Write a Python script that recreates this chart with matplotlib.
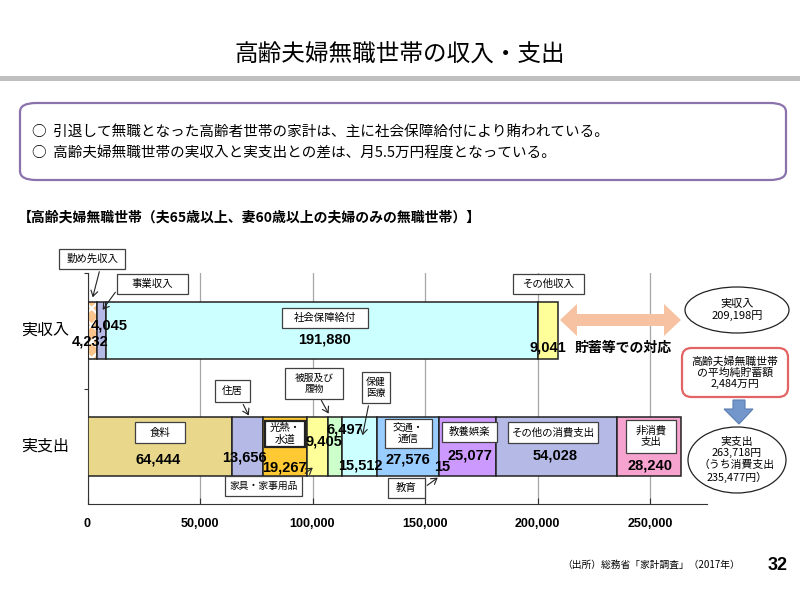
import matplotlib
matplotlib.use('Agg')
import matplotlib.pyplot as plt
from matplotlib.patches import FancyBboxPatch, Ellipse, Rectangle, Polygon, FancyArrowPatch
import numpy as np

plt.rcParams['font.family'] = ['Noto Sans CJK JP', 'DejaVu Sans']
plt.rcParams['hatch.linewidth'] = 1.6

# ---------------- data ----------------
income_labels = ['勤め先収入', '事業収入', '社会保障給付', 'その他収入']
income_values = [4232, 4045, 191880, 9041]
income_colors = ['#f9c58c', '#b4b9e6', '#ccffff', '#ffff99']

expense_labels = ['食料', '住居', '光熱・水道', '家具・家事用品', '被服及び履物', '保健医療',
                  '交通・通信', '教育', '教養娯楽', 'その他の消費支出', '非消費支出']
expense_values = [64444, 13656, 19267, 9405, 6497, 15512, 27576, 15, 25077, 54028, 28240]
expense_colors = ['#e9d78b', '#b4b9e6', '#ffc933', '#ffff99', '#ccffcc', '#ccffff',
                  '#99ccff', '#99ccff', '#cc99ff', '#b4b9e6', '#f7a3cf']

row_labels = ['実収入', '実支出']
xticks = [0, 50000, 100000, 150000, 200000, 250000]
xtick_labels = ['0', '50,000', '100,000', '150,000', '200,000', '250,000']
total_income = '209,198円'
total_expense = '263,718円'
consumption = '235,477円'
savings = '2,484万円'

W, H = 800, 600
fig = plt.figure(figsize=(8, 6), dpi=100)

def fx(x):
    return x / W

def fy(y):
    return 1 - y / H

NUM = 'Liberation Sans'

# ---------------- header ----------------
fig.text(fx(400), fy(54), '高齢夫婦無職世帯の収入・支出', ha='center', va='center', fontsize=17)
fig.add_artist(Rectangle((0, fy(81)), 1, 5 / H, transform=fig.transFigure,
                         facecolor='#bfbfbf', edgecolor='none'))

fig.add_artist(FancyBboxPatch((fx(20), fy(180)), fx(786) - fx(20), (180 - 103) / H,
                              boxstyle='round,pad=0,rounding_size=0.02',
                              transform=fig.transFigure, facecolor='white',
                              edgecolor='#8a72ad', linewidth=1.6, mutation_aspect=0.75))
fig.text(fx(32), fy(132), '○  引退して無職となった高齢者世帯の家計は、主に社会保障給付により賄われている。',
         ha='left', va='center', fontsize=10.5)
fig.text(fx(32), fy(154), '○  高齢夫婦無職世帯の実収入と実支出との差は、月5.5万円程度となっている。',
         ha='left', va='center', fontsize=10.5)
fig.text(fx(18), fy(218), '【高齢夫婦無職世帯（夫65歳以上、妻60歳以上の夫婦のみの無職世帯）】',
         ha='left', va='center', fontsize=10, fontweight='bold')

# ---------------- axes ----------------
x0px, x1px, ytop, ybot = 87.5, 707, 273, 504
scale = 0.00225  # px per yen
ax = fig.add_axes([fx(x0px), fy(ybot), fx(x1px) - fx(x0px), (ybot - ytop) / H])
ax.set_xlim(0, (x1px - x0px) / scale)
ax.set_ylim(0, 1)
for s in ['top', 'right']:
    ax.spines[s].set_visible(False)
ax.spines['left'].set_color('#333333')
ax.spines['bottom'].set_color('#333333')
ax.set_xticks(xticks)
ax.set_xticklabels(xtick_labels, fontfamily=NUM, fontweight='bold', fontsize=9)
ax.tick_params(axis='x', direction='in', length=4, color='#333333', pad=10)
ax.set_yticks([0.5, 1.0])
ax.set_yticklabels([])
ax.tick_params(axis='y', direction='out', length=3, color='#333333')
ax.grid(axis='x', color='#a6a6a6', linewidth=0.9)
ax.set_axisbelow(True)

def ay(ypx):
    return (ybot - ypx) / (ybot - ytop)

y_inc, y_exp = ay(330.5), ay(446.5)
h_inc, h_exp = 57 / (ybot - ytop), 59 / (ybot - ytop)

inc_left = np.concatenate([[0], np.cumsum(income_values)[:-1]])
exp_left = np.concatenate([[0], np.cumsum(expense_values)[:-1]])

for i, (v, l, c) in enumerate(zip(income_values, inc_left, income_colors)):
    if i == 0:
        ax.barh(y_inc, v, left=l, height=h_inc, color=c, edgecolor='white', hatch='xx', linewidth=0, zorder=2)
        ax.barh(y_inc, v, left=l, height=h_inc, fill=False, edgecolor='#222222', linewidth=1.1, zorder=3)
    else:
        ax.barh(y_inc, v, left=l, height=h_inc, color=c, edgecolor='#222222', linewidth=1.1, zorder=3)

for v, l, c in zip(expense_values, exp_left, expense_colors):
    ax.barh(y_exp, v, left=l, height=h_exp, color=c, edgecolor='#222222', linewidth=1.1, zorder=3)

tr = ax.get_xaxis_transform()
ax.text(-0.069, y_inc, row_labels[0], transform=ax.transAxes, ha='center', va='center', fontsize=11.5)
ax.text(-0.069, y_exp, row_labels[1], transform=ax.transAxes, ha='center', va='center', fontsize=11.5)

def fmt(v):
    return f'{v:,}'

# value labels: (dx px, y px)
inc_pos = [(-2, 342), (8, 326), (3, 340), (0, 347)]
exp_pos = [(-2, 459), (-3, 457), (0, 467), (7, 442), (10, 430), (1, 466),
           (0, 460), (3, 467), (2, 456), (-1, 456), (1, 466)]

for v, l, (dx, ypx) in zip(income_values, inc_left, inc_pos):
    ax.text(l + v / 2 + dx / scale, ay(ypx), fmt(v), transform=tr, ha='center', va='center',
            fontfamily=NUM, fontweight='bold', fontsize=10.5, zorder=6)
for v, l, (dx, ypx) in zip(expense_values, exp_left, exp_pos):
    ax.text(l + v / 2 + dx / scale, ay(ypx), fmt(v), transform=tr, ha='center', va='center',
            fontfamily=NUM, fontweight='bold', fontsize=10.5, zorder=6)

# ---------------- label boxes ----------------
def box(x0, y0, x1, y1, text, lw=0.9, ec='#404040', fs=7.5):
    fig.add_artist(Rectangle((fx(x0), fy(y1)), (x1 - x0) / W, (y1 - y0) / H,
                             transform=fig.transFigure, facecolor='white',
                             edgecolor=ec, linewidth=lw, zorder=10))
    fig.text(fx((x0 + x1) / 2), fy((y0 + y1) / 2), text, ha='center', va='center',
             fontsize=fs, linespacing=1.15, zorder=11)

def arrow(xa, ya, xb, yb):
    fig.add_artist(FancyArrowPatch((fx(xa), fy(ya)), (fx(xb), fy(yb)), transform=fig.transFigure,
                                   arrowstyle='->,head_length=4,head_width=2.5', color='#222222',
                                   linewidth=0.8, zorder=12))

box(59, 249, 125, 269, '勤め先収入')
box(117, 274, 188, 294, '事業収入')
box(282, 308, 368, 328, '社会保障給付')
box(513, 274, 584, 294, 'その他収入')
box(135, 422, 185, 443, '食料')
box(215, 380, 250, 402, '住居')
box(265, 421, 305, 447, '光熱・\n水道', lw=1.6, ec='#222222')
box(225, 476, 302, 496, '家具・家事用品', fs=7)
box(285, 368, 343, 399, '被服及び\n履物', fs=7)
box(362, 372, 390, 403, '保健\n医療', fs=7)
box(385, 419, 432, 448, '交通・\n通信')
box(388, 478, 425, 498, '教育')
box(442, 422, 497, 442, '教養娯楽')
box(508, 422, 598, 443, 'その他の消費支出')
box(626, 420, 676, 453, '非消費\n支出')

arrow(100, 269, 92, 300)
arrow(117, 290, 101, 312)
arrow(242, 402, 250, 418)
arrow(303, 475, 315, 466)
arrow(320, 398, 330, 416)
arrow(369, 403, 362, 438)
arrow(425, 487, 440, 476)

# ---------------- right side annotations ----------------
def poly(pts, fc, ec='none', lw=0):
    fig.add_artist(Polygon([(fx(x), fy(y)) for x, y in pts], closed=True,
                           transform=fig.transFigure, facecolor=fc, edgecolor=ec,
                           linewidth=lw, zorder=9))

# double arrow
ax_l, ax_r, cy = 560, 681, 320
poly([(ax_l, cy), (ax_l + 17, cy - 16), (ax_l + 17, cy - 6), (ax_r - 17, cy - 6),
      (ax_r - 17, cy - 16), (ax_r, cy), (ax_r - 17, cy + 16), (ax_r - 17, cy + 6),
      (ax_l + 17, cy + 6), (ax_l + 17, cy + 16)], '#f6c2a2')
fig.text(fx(575), fy(348), '貯蓄等での対応', ha='left', va='center', fontsize=10, fontweight='bold')

fig.add_artist(Ellipse((fx(737), fy(310)), 104 / W, 46 / H, transform=fig.transFigure,
                       facecolor='white', edgecolor='#222222', linewidth=0.9, zorder=9))
fig.text(fx(737), fy(310), '実収入\n' + total_income, ha='center', va='center',
         fontsize=8, linespacing=1.2, zorder=10)

fig.add_artist(FancyBboxPatch((fx(682), fy(397)), (788 - 682) / W, (397 - 348) / H,
                              boxstyle='round,pad=0,rounding_size=0.012',
                              transform=fig.transFigure, facecolor='white',
                              edgecolor='#e36464', linewidth=1.6, zorder=9, mutation_aspect=1.3))
fig.text(fx(735), fy(372.5), '高齢夫婦無職世帯\nの平均純貯蓄額\n' + savings, ha='center', va='center',
         fontsize=7.8, linespacing=1.15, zorder=10)

poly([(733, 400), (745, 400), (745, 409), (753, 409), (739, 424), (724, 409), (733, 409)],
     '#7396cb', '#5b7db3', 0.8)

fig.add_artist(Ellipse((fx(737), fy(460)), 98 / W, 66 / H, transform=fig.transFigure,
                       facecolor='white', edgecolor='#222222', linewidth=0.9, zorder=9))
fig.text(fx(737), fy(460), '実支出\n' + total_expense + '\n（うち消費支出\n' + consumption + '）',
         ha='center', va='center', fontsize=7.8, linespacing=1.15, zorder=10)

# ---------------- footer ----------------
fig.text(fx(740), fy(565), '（出所）総務省「家計調査」（2017年）', ha='right', va='center', fontsize=7)
fig.text(fx(788), fy(565), '32', ha='right', va='center', fontsize=13, fontweight='bold', fontfamily=NUM)

fig.savefig('out.png', dpi=100)
